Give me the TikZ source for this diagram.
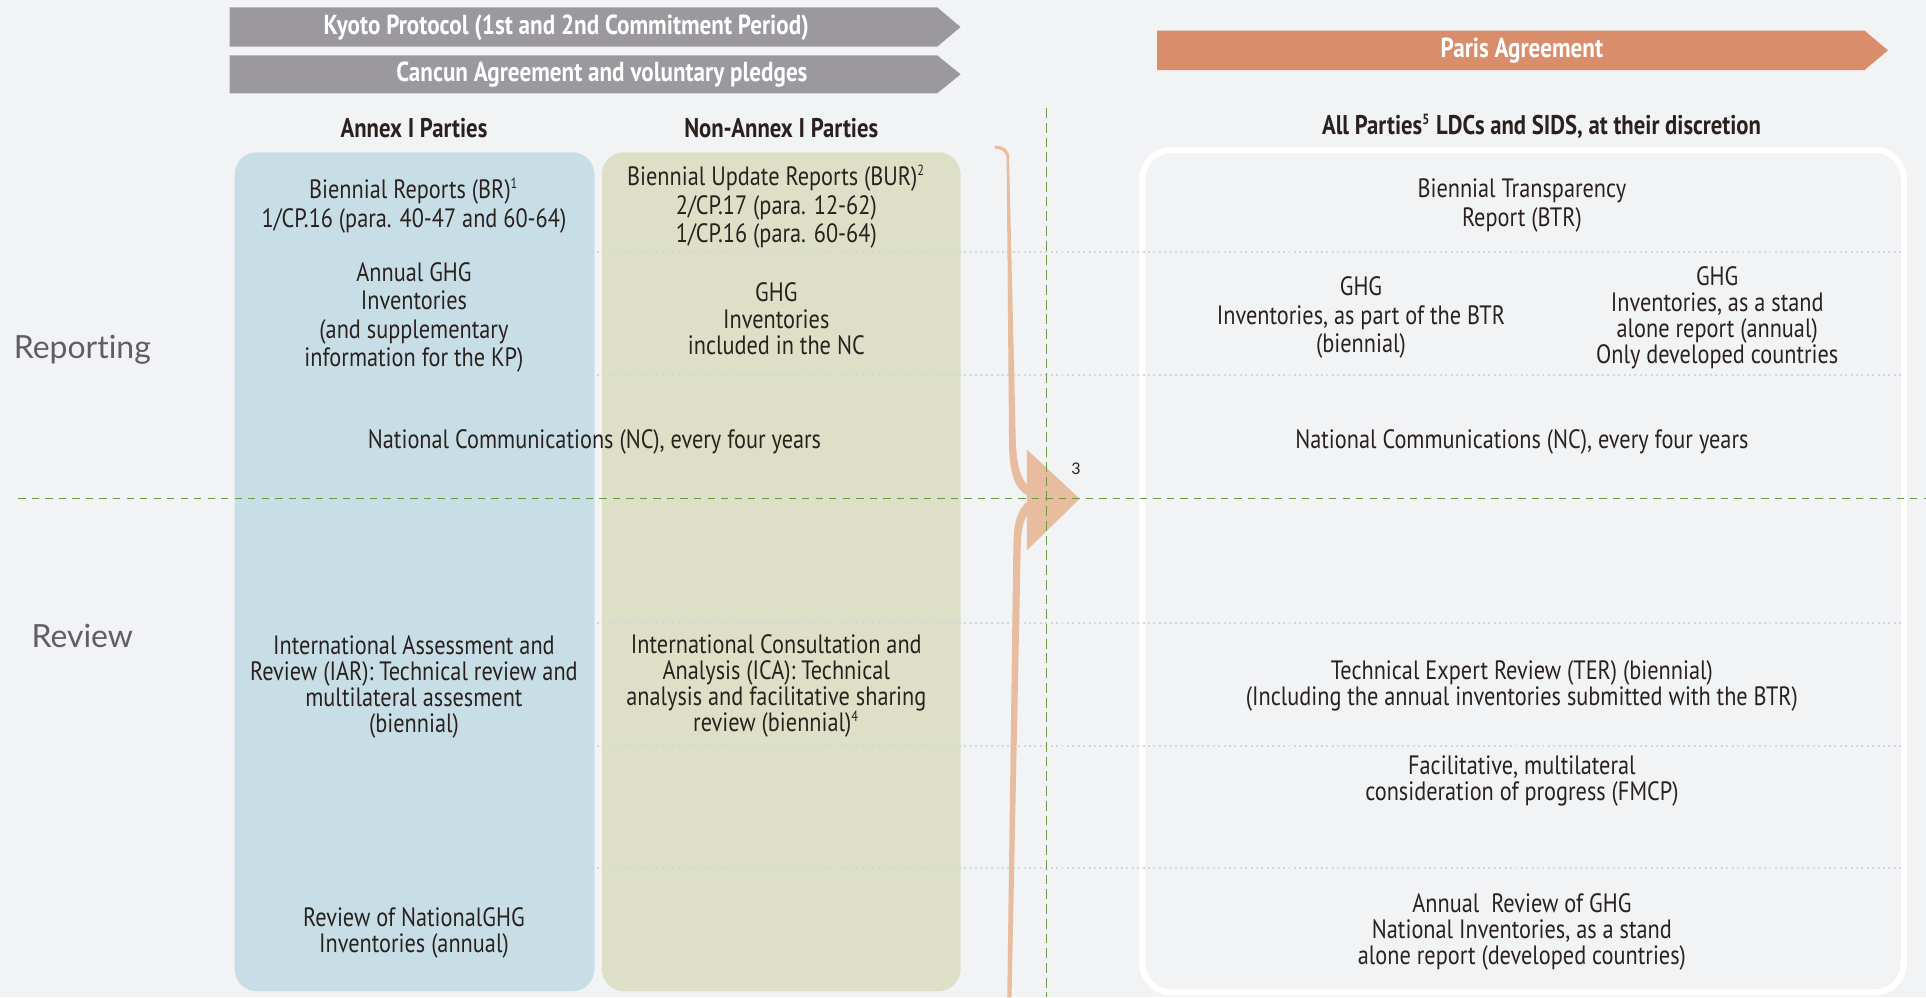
\documentclass[tikz,border=0pt]{standalone}
\usepackage{fontspec}
\setmainfont[FakeStretch=0.84]{PT Sans}
\newfontfamily\sidefont[Ligatures=NoCommon]{Lato}
\definecolor{bgc}{HTML}{F2F3F5}
\definecolor{bluec}{HTML}{C7DEE6}
\definecolor{greenc}{HTML}{DDE0C7}
\definecolor{grayc}{HTML}{9C999E}
\definecolor{parisc}{HTML}{D98D6B}
\definecolor{bracec}{HTML}{E8BC9F}
\definecolor{gdc}{HTML}{679C40}
\definecolor{sepc}{HTML}{D3D6DA}
\definecolor{txtc}{HTML}{2A211F}
\definecolor{sidec}{HTML}{5F5F62}
\newcommand{\supnum}[1]{\textsuperscript{\fontsize{6}{6}\selectfont #1}}
\begin{document}
\begin{tikzpicture}[x=0.5pt,y=-0.5pt,
  body/.style={font=\fontsize{10.8}{11.6}\selectfont, text=txtc, align=center, inner sep=0pt},
  bodyt/.style={body, font=\fontsize{10.8}{10.6}\selectfont},
  hdr/.style={font=\bfseries\fontsize{11}{12}\selectfont, text=txtc, inner sep=0pt},
  banner/.style={font=\bfseries\fontsize{11.2}{12}\selectfont, text=white, inner sep=0pt},
  side/.style={font=\sidefont\fontsize{13}{14}\selectfont, text=sidec, inner sep=0pt},
  sep/.style={draw=sepc, line width=0.8pt, dash pattern=on 0.8pt off 1.4pt},
  gdash/.style={draw=gdc, line width=0.6pt, dash pattern=on 3pt off 2.5pt},
  gdashv/.style={draw=gdc, line width=0.6pt, dash pattern=on 4pt off 2pt},
]
\fill[bgc] (0,0) rectangle (1568,812);
\useasboundingbox (0,0) rectangle (1568,812);

% banners
\fill[grayc] (187,6) -- (763,6) -- (782,22) -- (763,38) -- (187,38) -- cycle;
\fill[grayc] (187,45) -- (763,45) -- (782,60.5) -- (763,76) -- (187,76) -- cycle;
\fill[parisc] (942,25) -- (1518,25) -- (1537,41) -- (1518,57) -- (942,57) -- cycle;
\node[banner] (kyoto) at (461,22.5) {Kyoto Protocol (1st and 2nd Commitment Period)};
\node[banner] (cancun) at (490,61) {Cancun Agreement and voluntary pledges};
\node[banner] (paris) at (1239,41.5) {Paris Agreement};

% headers
\node[hdr] (ha) at (337,104) {Annex I Parties};
\node[hdr] (hn) at (636,104) {Non-Annex I Parties};
\node[hdr] (hp) at (1255,103) {All Parties\supnum{5} LDCs and SIDS, at their discretion};

% boxes
\fill[bluec, rounded corners=9pt] (191,124) rectangle (484,807);
\fill[greenc, rounded corners=9pt] (490,124) rectangle (782,807);
\draw[white, line width=2.5pt, rounded corners=12pt] (930,122) rectangle (1550,808);

% separators
\foreach \yy in {205,305,507,607,707} \draw[sep] (191,\yy) -- (1548,\yy);

% brace arrow
\fill[bracec] (810,118.5) .. controls (816,118.5) and (821.5,121) .. (821.5,128)
  -- (827,360) .. controls (828,380) and (831,390) .. (837,395)
  -- (837,404) .. controls (826,398) and (821.5,385) .. (821.5,360)
  -- (819.5,128) .. controls (819,123.5) and (815,121) .. (810,121) -- cycle;
\fill[bracec] (837,408) .. controls (829,414) and (825,424) .. (825,445)
  -- (820,812) -- (823.5,812) -- (831,445) .. controls (831,432) and (833,424) .. (837,418) -- cycle;
\fill[bracec] (836,366) -- (879,406) -- (836,448) -- cycle;
\node[font=\sidefont\fontsize{6.5}{7}\selectfont, text=txtc, inner sep=0pt] (n3) at (876,382) {3};

% dashed guides
\draw[gdash] (15,406) -- (1568,406);
\draw[gdashv] (852,88) -- (852,812);

% side labels
\node[side] (rep) at (67,285) {Reporting};
\node[side] (rev) at (67,518) {Review};

% left texts
\node[body] (br) at (337,167.5) {Biennial Reports (BR)\supnum{1}\\1/CP.16 (para. 40-47 and 60-64)};
\node[body] (aghg) at (337,258.5) {Annual GHG\\Inventories\\(and supplementary\\information for the KP)};
\node[body] (ncl) at (484,359.5) {National Communications (NC), every four years};
\node[bodyt] (iar) at (337,559.5) {International Assessment and\\Review (IAR): Technical review and\\multilateral assesment\\(biennial)};
\node[bodyt] (rng) at (337,759.5) {Review of NationalGHG\\Inventories (annual)};
\node[body] (bur) at (632,168.5) {Biennial Update Reports (BUR)\supnum{2}\\2/CP.17 (para. 12-62)\\1/CP.16 (para. 60-64)};
\node[bodyt] (ghgnc) at (632,259.5) {GHG\\Inventories\\included in the NC};
\node[bodyt] (ica) at (632,558.5) {International Consultation and\\Analysis (ICA): Technical\\analysis and facilitative sharing\\review (biennial)\supnum{4}};

% right texts
\node[body] (btr) at (1239,167.5) {Biennial Transparency\\Report (BTR)};
\node[body] (ghgbtr) at (1108,258.5) {GHG\\Inventories, as part of the BTR\\(biennial)};
\node[bodyt] (ghgsa) at (1398,258.5) {GHG\\Inventories, as a stand\\alone report (annual)\\Only developed countries};
\node[body] (ncr) at (1239,359.5) {National Communications (NC), every four years};
\node[bodyt] (ter) at (1239,558.5) {Technical Expert Review (TER) (biennial)\\(Including the annual inventories submitted with the BTR)};
\node[bodyt] (fmcp) at (1239,635.5) {Facilitative, multilateral\\consideration of progress (FMCP)};
\node[bodyt] (arev) at (1239,758.5) {Annual\ \ Review of GHG\\National Inventories, as a stand\\alone report (developed countries)};
\end{tikzpicture}
\end{document}
